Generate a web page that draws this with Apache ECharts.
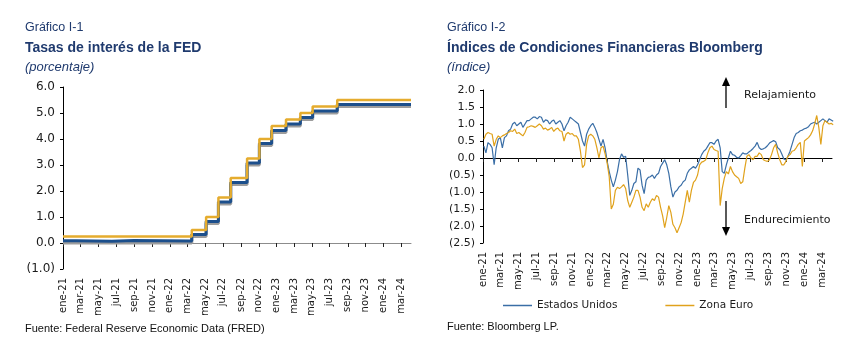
<!DOCTYPE html>
<html><head><meta charset="utf-8">
<script src="https://cdn.jsdelivr.net/npm/echarts@6/dist/echarts.min.js"></script>
<style>html,body{margin:0;padding:0;background:#fff}#c{width:863px;height:357px}</style>
</head><body><div id="c"></div>
<script>
// ---------- data ----------
const tickDates = ['2021-01-01','2021-03-01','2021-05-01','2021-07-01','2021-09-01','2021-11-01',
  '2022-01-01','2022-03-01','2022-05-01','2022-07-01','2022-09-01','2022-11-01',
  '2023-01-01','2023-03-01','2023-05-01','2023-07-01','2023-09-01','2023-11-01',
  '2024-01-01','2024-03-01'];
const monthNames = ['ene','feb','mar','abr','may','jun','jul','ago','sep','oct','nov','dic'];

// Fed target range changes
const fedDates = ['2021-01-01','2022-03-17','2022-05-05','2022-06-16','2022-07-28','2022-09-22',
  '2022-11-03','2022-12-15','2023-02-02','2023-03-23','2023-05-04','2023-07-27','2024-04-04'];
const fedUpper = [0.25,0.50,1.00,1.75,2.50,3.25,4.00,4.50,4.75,5.00,5.25,5.50,5.50];
const fedLower = [0.00,0.25,0.75,1.50,2.25,3.00,3.75,4.25,4.50,4.75,5.00,5.25,5.25];
// Effective fed funds rate
const effDates = ['2021-01-01','2021-02-15','2021-06-17','2021-09-01','2022-03-17','2022-05-05','2022-06-16',
  '2022-07-28','2022-09-22','2022-11-03','2022-12-15','2023-02-02','2023-03-23','2023-05-04','2023-07-27','2024-04-04'];
const effVals = [0.09,0.07,0.10,0.08,0.33,0.83,1.58,2.33,3.08,3.83,4.33,4.58,4.83,5.08,5.33,5.33];

// Bloomberg financial conditions, weekly from 2021-01-04
const weekStart = '2021-01-04';
const usVals = [
 0.35,0.15,0.45,0.4,0.3,-0.2,0.3,0.55,0.6,0.3,
 0.6,0.65,0.8,0.85,1.0,1.05,0.95,1.0,1.05,0.9,
 1.0,1.1,1.1,1.15,1.2,1.2,1.15,1.22,1.2,1.05,
 1.12,1.1,1.0,1.08,1.12,1.0,1.05,1.1,1.0,0.8,
 0.95,1.05,1.2,1.15,1.1,1.05,1.0,0.75,0.5,0.35,
 0.7,0.85,0.95,1.02,0.9,0.75,0.55,0.35,0.55,0.3,
 -0.1,-0.4,-0.65,-0.85,-0.65,-0.4,-0.05,0.12,0.02,0.05,
 -0.5,-1.1,-0.95,-0.75,-0.7,-0.3,-0.35,-0.8,-1.05,-0.65,
 -0.57,-0.55,-0.5,-0.6,-0.5,-0.45,-0.25,-0.15,-0.05,-0.2,
 -0.45,-0.85,-1.15,-1.0,-0.95,-0.85,-0.8,-0.7,-0.65,-0.45,
 -0.35,-0.3,-0.25,-0.3,-0.2,-0.05,0.1,0.2,0.25,0.35,
 0.45,0.45,0.4,0.5,0.55,0.3,-0.4,-0.45,-0.2,0.0,
 0.2,0.1,0.08,0.02,0.0,0.07,0.15,0.12,0.12,0.18,
 0.22,0.28,0.35,0.46,0.3,0.25,0.27,0.3,0.36,0.44,
 0.48,0.51,0.48,0.3,0.25,0.12,-0.03,-0.06,0.05,0.2,
 0.4,0.6,0.72,0.75,0.8,0.82,0.86,0.88,0.92,1.0,
 1.03,1.05,1.0,1.05,1.1,1.15,1.1,1.05,1.15,1.12,1.08];
const euVals = [
 0.55,0.7,0.75,0.72,0.7,0.35,0.55,0.65,0.6,0.65,
 0.68,0.72,0.75,0.8,0.78,0.85,0.72,0.75,0.7,0.65,
 0.75,0.9,0.92,0.95,0.93,0.9,0.95,1.0,0.95,0.85,
 0.88,0.82,0.85,0.9,0.78,0.85,0.88,0.8,0.78,0.5,
 0.7,0.75,0.7,0.72,0.65,0.65,0.55,0.2,-0.28,-0.2,
 0.4,0.65,0.7,0.65,0.55,0.3,0.0,0.3,0.35,0.12,
 -0.15,-0.55,-1.5,-1.36,-0.95,-0.86,-0.9,-0.85,-0.78,-0.9,
 -1.25,-1.45,-1.3,-1.15,-0.95,-0.95,-1.15,-1.45,-1.55,-1.35,
 -1.45,-1.3,-1.2,-1.25,-1.1,-1.15,-1.45,-1.7,-2.05,-1.75,
 -1.4,-1.6,-1.95,-2.05,-2.2,-2.05,-1.9,-1.65,-1.3,-0.95,
 -1.3,-0.95,-0.72,-0.65,-0.5,-0.2,-0.12,-0.1,-0.05,0.15,
 0.3,0.35,0.25,0.22,0.2,-1.4,-0.9,-0.6,-0.4,-0.47,
 -0.25,-0.4,-0.5,-0.55,-0.6,-0.75,-0.7,-0.3,0.05,0.1,
 0.0,-0.05,0.05,0.05,0.15,0.1,-0.05,-0.08,-0.1,-0.05,
 0.1,0.3,0.4,0.15,-0.05,-0.2,-0.2,-0.1,0.05,0.1,
 0.2,0.22,0.3,0.4,0.46,-0.25,0.5,0.55,0.6,0.68,
 0.8,1.0,1.25,0.9,0.4,0.95,1.1,1.05,1.0,1.02,0.98];

// ---------- helpers ----------
const toTs = s => { const p = s.split('-').map(Number); return new Date(p[0], p[1]-1, p[2]).getTime(); };
const ws = weekStart.split('-').map(Number);
const weekTs = i => new Date(ws[0], ws[1]-1, ws[2] + 7*i).getTime();
const pairs = (dates, vals) => dates.map((d,i) => [toTs(d), vals[i]]);
const weekly = vals => vals.map((v,i) => [weekTs(i), v]);
const ticks = tickDates.map(toTs);
const fmtDate = v => { const d = new Date(v); return monthNames[d.getMonth()] + '-' + String(d.getFullYear()).slice(2); };
const fmtNum = v => v < 0 ? '(' + (-v).toFixed(1) + ')' : v.toFixed(1);

const xMin = toTs('2021-01-01'), xMax = toTs('2024-04-04');
const LBL = '#1b1b1b';

function xAxisCfg(gridIndex, lineColor, margin) {
  return {
    type: 'value', gridIndex, min: xMin, max: xMax, scale: true,
    axisLine: { onZero: true, lineStyle: { color: lineColor, width: 1 } },
    axisTick: { show: true, length: 4, customValues: ticks, lineStyle: { color: '#222' } },
    axisLabel: { customValues: ticks, rotate: 90, margin, formatter: fmtDate,
      fontFamily: 'DejaVu Sans', fontSize: 10, color: LBL, showMinLabel: true, showMaxLabel: true, hideOverlap: false },
    splitLine: { show: false }
  };
}
function yAxisCfg(gridIndex, min, max, interval, fs) {
  return {
    type: 'value', gridIndex, min, max, interval,
    axisLine: { show: true, lineStyle: { color: '#000' } },
    axisTick: { show: true, length: 3, lineStyle: { color: '#000' } },
    axisLabel: { formatter: fmtNum, fontFamily: 'DejaVu Sans', fontSize: fs, color: LBL, margin: 8 },
    splitLine: { show: false }
  };
}

const navy = '#1f3a6e';
function txt(x, y, text, font, color, align) {
  return { type: 'text', x, y, style: { text, font, fill: color || navy, align: align || 'left', verticalAlign: 'middle' } };
}
function arrow(x, y1, y2, up) {
  const dir = up ? 1 : -1;
  return [
    { type: 'line', shape: { x1: x, y1: y1, x2: x, y2: y2 + dir*6 }, style: { stroke: '#000', lineWidth: 1.3 } },
    { type: 'polygon', shape: { points: [[x, y2], [x-4, y2 + dir*9], [x+4, y2 + dir*9]] }, style: { fill: '#000' } }
  ];
}

const chart = echarts.init(document.getElementById('c'), null, { renderer: 'canvas' });
chart.setOption({
  animation: false,
  backgroundColor: '#fff',
  grid: [
    { left: 63, top: 87, width: 348, height: 182 },
    { left: 483, top: 90, width: 349, height: 153 }
  ],
  xAxis: [ xAxisCfg(0, '#8c8c8c', 9), xAxisCfg(1, '#000', 9) ],
  yAxis: [ yAxisCfg(0, -1, 6, 1, 12), yAxisCfg(1, -2.5, 2, 0.5, 11) ],
  legend: {
    data: ['Estados Unidos', 'Zona Euro'], left: 498, top: 295, icon: 'rect',
    itemWidth: 29, itemHeight: 1.5, itemGap: 48,
    textStyle: { fontFamily: 'DejaVu Sans', fontSize: 10.5, color: LBL }
  },
  series: [
    { name: 'Límite inferior', type: 'line', step: 'end', xAxisIndex: 0, yAxisIndex: 0, symbol: 'none',
      data: pairs(fedDates, fedLower), lineStyle: { color: '#9d9d9d', width: 3 } },
    { name: 'Tasa efectiva', type: 'line', step: 'end', xAxisIndex: 0, yAxisIndex: 0, symbol: 'none',
      data: pairs(effDates, effVals), lineStyle: { color: '#1c4f8c', width: 3 } },
    { name: 'Límite superior', type: 'line', step: 'end', xAxisIndex: 0, yAxisIndex: 0, symbol: 'none',
      data: pairs(fedDates, fedUpper), lineStyle: { color: '#e5ac2e', width: 2.5 } },
    { name: 'Estados Unidos', type: 'line', xAxisIndex: 1, yAxisIndex: 1, symbol: 'none',
      data: weekly(usVals), color: '#3a6ea6', lineStyle: { color: '#3a6ea6', width: 1.2 } },
    { name: 'Zona Euro', type: 'line', xAxisIndex: 1, yAxisIndex: 1, symbol: 'none',
      data: weekly(euVals), color: '#e0a21c', lineStyle: { color: '#e0a21c', width: 1.2 } }
  ],
  graphic: [
    txt(25, 28, 'Gráfico I-1', '12.5px "Liberation Sans"'),
    txt(25, 48, 'Tasas de interés de la FED', 'bold 14px "Liberation Sans"'),
    txt(25, 67, '(porcentaje)', 'italic 13px "Liberation Sans"'),
    txt(447, 28, 'Gráfico I-2', '12.5px "Liberation Sans"'),
    txt(447, 48, 'Índices de Condiciones Financieras Bloomberg', 'bold 14px "Liberation Sans"'),
    txt(447, 67, '(índice)', 'italic 13px "Liberation Sans"'),
    txt(25, 329, 'Fuente: Federal Reserve Economic Data (FRED)', '11px "Liberation Sans"', '#111'),
    txt(447, 327, 'Fuente: Bloomberg LP.', '11px "Liberation Sans"', '#111'),
    txt(744, 95, 'Relajamiento', '11px "DejaVu Sans"', '#1a1a1a'),
    txt(744, 220, 'Endurecimiento', '11px "DejaVu Sans"', '#1a1a1a'),
    ...arrow(726, 108, 77, true),
    ...arrow(726, 201, 236, false)
  ]
});
</script>
</body></html>
